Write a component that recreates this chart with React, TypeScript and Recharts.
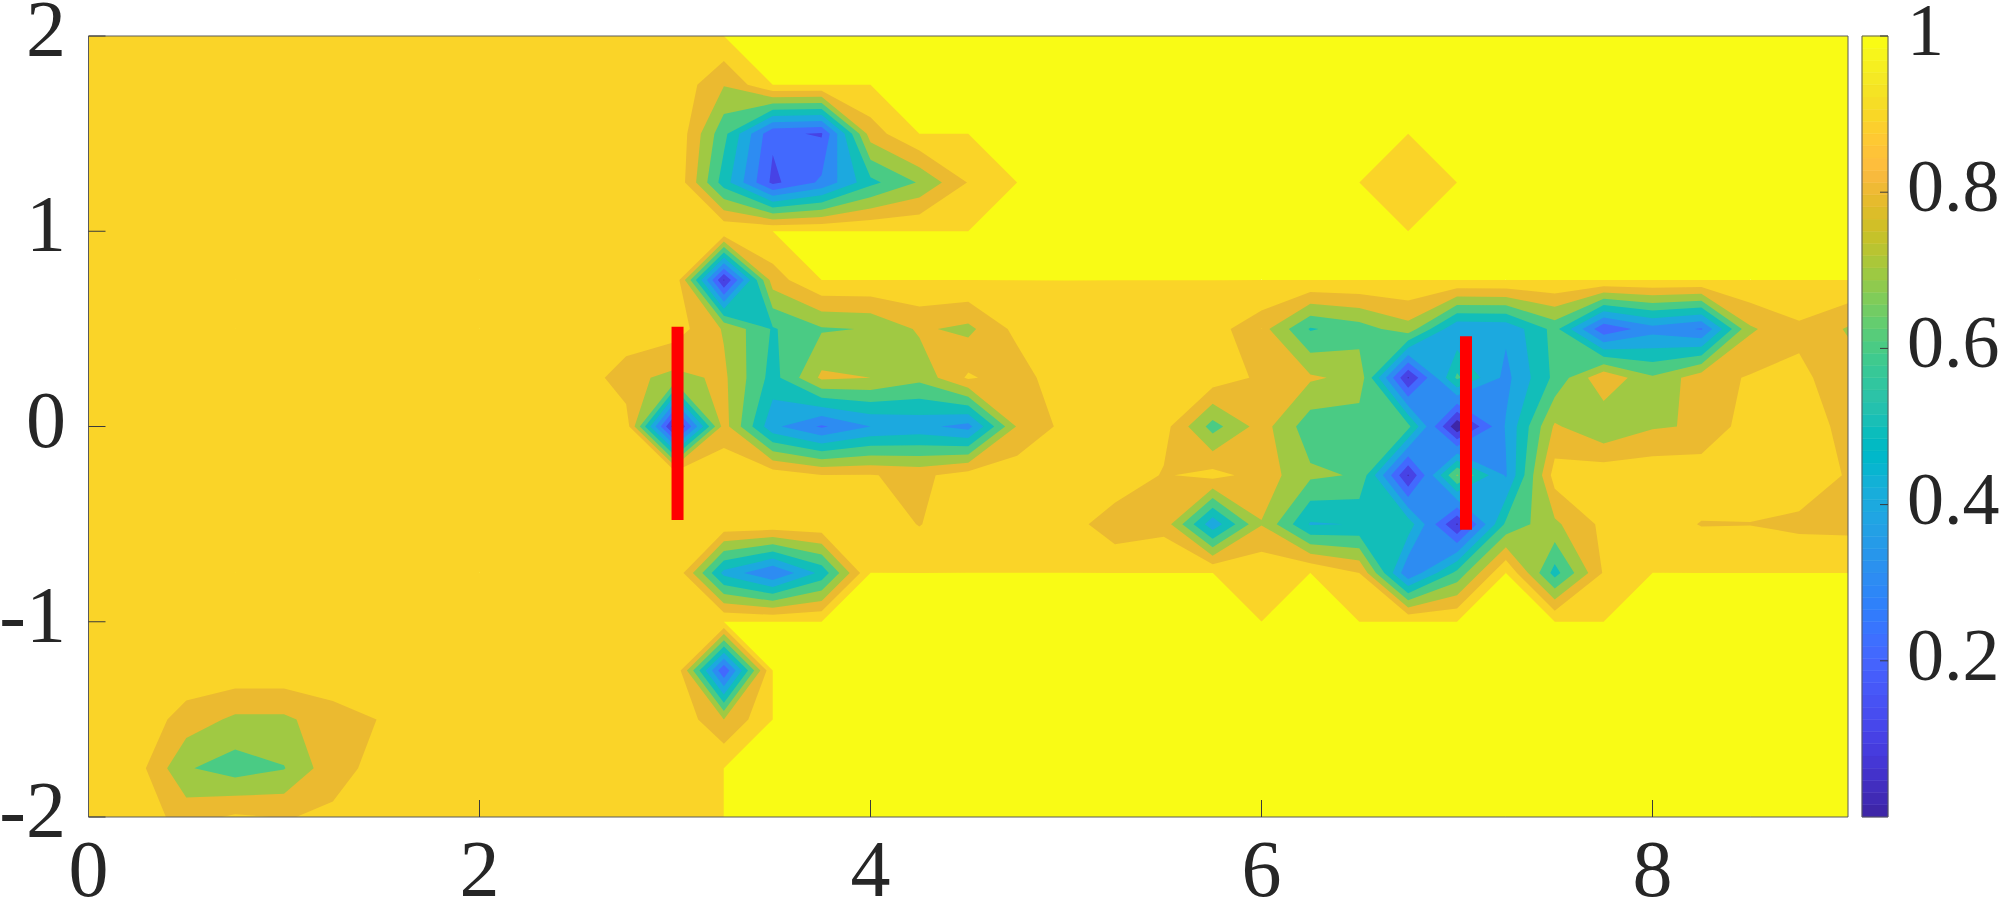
import React from "react";
import {
  Bar,
  BarChart,
  Scatter,
  ScatterChart,
  XAxis,
  YAxis
} from "recharts";

// field on a 0.25 grid: x = 0..9 (37 columns), rows listed from y = 2 down to y = -2
const yRows = [2, 1.75, 1.5, 1.25, 1, 0.75, 0.5, 0.25, 0, -0.25, -0.5, -0.75, -1, -1.25, -1.5, -1.75, -2];
const xCols = [
  0, 0.25, 0.5, 0.75, 1, 1.25, 1.5, 1.75, 2, 2.25, 2.5, 2.75, 3, 3.25, 3.5, 3.75, 4, 4.25, 4.5,
  4.75, 5, 5.25, 5.5, 5.75, 6, 6.25, 6.5, 6.75, 7, 7.25, 7.5, 7.75, 8, 8.25, 8.5, 8.75, 9
];

const rowP200 = [.97,.97,.97,.97,.97,.97,.97,.97,.97,.97,.97,.97,.97,1,1,1,1,1,1,1,1,1,1,1,1,1,1,1,1,1,1,1,1,1,1,1,1];
const rowP175 = [.97,.97,.97,.97,.97,.97,.97,.97,.97,.97,.97,.97,.98,.805,1,1,1,1,1,1,1,1,1,1,1,1,1,1,1,1,1,1,1,1,1,1,1];
const rowP150 = [.97,.97,.97,.97,.97,.97,.97,.97,.97,.97,.97,.97,.99,.63,.22,.19,.85,1,1,1,1,1,1,1,1,1,1,1,1,1,1,1,1,1,1,1,1];
const rowP125 = [.97,.97,.97,.97,.97,.97,.97,.97,.97,.97,.97,.97,.99,.55,.174,.32,.57,.71,.905,1,1,1,1,1,1,1,1,.95,1,1,1,1,1,1,1,1,1];
const rowP100 = [.97,.97,.97,.97,.97,.97,.97,.97,.97,.97,.97,.97,.97,.99,1,1,1,1,1,1,1,1,1,1,1,1,1,1,1,1,1,1,1,1,1,1,1];
const rowP075 = [.97,.97,.97,.97,.97,.97,.97,.97,.97,.97,.97,.97,.98,.09,.85,1,1,1,1,1,1,1,1,1,1,1,1,1,1,1,1,1,1,1,1,1,1];
const rowP050 = [.97,.97,.97,.97,.97,.97,.97,.97,.97,.97,.97,.99,.948,.79,.59,.69,.705,.815,.775,.93,.99,.98,.97,.935,.84,.59,.65,.76,.41,.42,.635,.22,.36,.29,.785,.88,.79];
const rowP025 = [.97,.97,.97,.97,.97,.97,.97,.97,.97,.97,.99,.83,.77,.82,.56,.82,.8,.73,.915,.84,.99,.98,.975,.96,.88,.815,.77,.09,.62,.37,.625,.883,.715,.86,.909,.92,.85];
const rowZero = [.97,.97,.97,.97,.97,.97,.97,.97,.97,.97,.97,.96,.03,.845,.425,.285,.4,.43,.362,.81,.93,.98,.94,.66,.845,.64,.635,.63,.02,.41,.815,.71,.79,.81,.959,.97,.86];
const rowM025 = [.97,.97,.97,.97,.97,.97,.97,.97,.97,.97,.97,.97,.98,.97,.965,.905,.905,.875,.95,.96,.98,.99,.89,.936,.856,.72,.69,.09,.71,.39,.945,.97,.97,.97,.97,.97,.89];
const rowM050 = [.97,.97,.97,.97,.97,.97,.97,.97,.97,.97,.97,.97,.98,.98,.98,.98,.97,.895,.98,.98,.96,.83,.865,.43,.795,.49,.505,.56,.09,.62,.78,.925,.95,.895,.897,.875,.87];
const rowM075 = [.97,.97,.97,.97,.97,.97,.97,.97,.97,.97,.97,.97,.99,.47,.3,.53,1,1,1,1,1,1,1,1,.98,1,.9,.315,.63,1,.56,.91,1,1,1,1,1];
const rowM100 = [.97,.97,.97,.97,.97,.97,.97,.97,.97,.97,.97,.97,.97,1,1,1,1,1,1,1,1,1,1,1,1,1,1,1,1,1,1,1,1,1,1,1,1];
const rowM125 = [.97,.97,.97,.97,.97,.97,.97,.97,.97,.97,.97,.97,.99,.21,1,1,1,1,1,1,1,1,1,1,1,1,1,1,1,1,1,1,1,1,1,1,1];
const rowM150 = [.97,.97,.856,.78,.78,.858,.905,.98,.97,.97,.97,.97,.99,.8,1,1,1,1,1,1,1,1,1,1,1,1,1,1,1,1,1,1,1,1,1,1,1];
const rowM175 = [.97,.94,.71,.65,.695,.868,.93,.98,.97,.97,.97,.97,.97,1,1,1,1,1,1,1,1,1,1,1,1,1,1,1,1,1,1,1,1,1,1,1,1];
const rowM200 = [.97,.956,.86,.915,.895,.915,.96,.97,.97,.97,.97,.97,.97,1,1,1,1,1,1,1,1,1,1,1,1,1,1,1,1,1,1,1,1,1,1,1,1];

const field = [
  rowP200, rowP175, rowP150, rowP125, rowP100, rowP075, rowP050, rowP025, rowZero,
  rowM025, rowM050, rowM075, rowM100, rowM125, rowM150, rowM175, rowM200
];

// contour levels, drawn from the top one down
const levels = [1.01, 0.9999, 0.9, 0.8, 0.7, 0.6, 0.5, 0.4, 0.3, 0.2, 0.1];
const bandColors = [
  "#f9fb15", "#fad428", "#ebba30", "#a0c943", "#4acb84", "#12beb9",
  "#1ca9df", "#2d8cf2", "#4269fe", "#4743e5", "#3e26a8"
];

const xTicks = [0, 2, 4, 6, 8];
const yTicks = [-2, -1, 0, 1, 2];
const barTicks = [0.2, 0.4, 0.6, 0.8, 1];
const barLabels = ["0.2", "0.4", "0.6", "0.8", "1"];

const markerA = [{ x: 3.013, y: 0.511 }, { x: 3.013, y: -0.479 }];
const markerB = [{ x: 7.046, y: 0.462 }, { x: 7.046, y: -0.529 }];
const barAxisAnchor = [{ x: 0.5, y: 0.5 }];

const parula = [
  "#3e26a8", "#402ab5", "#422ebf", "#4332cb", "#4537d5", "#463cde", "#4741e5", "#4747eb",
  "#474df0", "#4752f4", "#4758f8", "#465dfb", "#4563fd", "#4269fe", "#3e6fff", "#3875fe",
  "#327bfc", "#2f81fa", "#2d87f7", "#2d8cf3", "#2b91ef", "#2796eb", "#259be8", "#23a0e5",
  "#20a5e3", "#1ca9df", "#18addb", "#12b1d6", "#08b5d0", "#01b8ca", "#02bac3", "#0bbdbc",
  "#19bfb6", "#24c1ae", "#2cc3a7", "#31c69f", "#37c897", "#3fca8e", "#4acb84", "#57cc7a",
  "#64cd6f", "#72cc64", "#80cc59", "#8fca4e", "#9dc942", "#abc739", "#b9c431", "#c5c22a",
  "#d1bf27", "#dcbd29", "#e6bb2d", "#efba35", "#f8ba3d", "#febe3c", "#fec338", "#fec933",
  "#fccf2d", "#f9d726", "#f6dd26", "#f5e324", "#f5e924", "#f6ef20", "#f7f51b", "#f9fb15"
];

const barRow = [Object.fromEntries(parula.map((_, i) => [`s${i}`, 1 / parula.length]))];

type Pt = { x: number; y: number; v: number };

const crossing = (a: Pt, b: Pt, level: number) => {
  const f = (level - a.v) / (b.v - a.v);
  return { x: a.x + f * (b.x - a.x), y: a.y + f * (b.y - a.y), v: level };
};

// the part(s) of one grid cell below the level
function cellPolygons(col: number, row: number, level: number) {
  const corners: Pt[] = [
    { x: xCols[col], y: yRows[row], v: field[row][col] },
    { x: xCols[col + 1], y: yRows[row], v: field[row][col + 1] },
    { x: xCols[col + 1], y: yRows[row + 1], v: field[row + 1][col + 1] },
    { x: xCols[col], y: yRows[row + 1], v: field[row + 1][col] }
  ];
  const low = corners.map((c) => c.v < level);
  const mean = corners.reduce((s, c) => s + c.v, 0) / 4;
  // saddle: the centre value says whether the two low corners join up
  if (low[0] === low[2] && low[1] === low[3] && low[0] !== low[1] && mean >= level) {
    const polys: Pt[][] = [];
    corners.forEach((c, i) => {
      if (!low[i]) return;
      const prev = corners[(i + 3) % 4];
      const next = corners[(i + 1) % 4];
      polys.push([crossing(prev, c, level), c, crossing(c, next, level)]);
    });
    return polys;
  }
  const out: Pt[] = [];
  corners.forEach((a, i) => {
    const b = corners[(i + 1) % 4];
    if (low[i]) out.push(a);
    if (low[i] !== low[(i + 1) % 4]) out.push(crossing(a, b, level));
  });
  return out.length > 2 ? [out] : [];
}

const bands = levels.map((level) => {
  const vertices: { x: number; y: number }[] = [];
  const sizes: number[] = [];
  for (let row = 0; row < yRows.length - 1; row++) {
    for (let col = 0; col < xCols.length - 1; col++) {
      cellPolygons(col, row, level).forEach((poly) => {
        poly.forEach((p) => vertices.push({ x: p.x, y: p.y }));
        sizes.push(poly.length);
      });
    }
  }
  return { vertices, sizes };
});

// Scatter hands its scaled points to this; one path per band so cells leave no seams
function BandPath({ points, sizes, color }: any) {
  let d = "";
  let at = 0;
  sizes.forEach((n: number) => {
    const pts = points.slice(at, at + n);
    d += "M" + pts.map((p: any) => `${p.x},${p.y}`).join("L") + "Z";
    at += n;
  });
  return <path d={d} fill={color} stroke="none" />;
}

const NoDot = () => null;

const labelFont = "'Liberation Serif', serif";

function XLabel({ x, payload }: any) {
  return (
    <text x={x} y={896} textAnchor="middle" fontFamily={labelFont} fontSize={80} fill="#262626">
      {payload.value}
    </text>
  );
}

function YLabel({ y, payload }: any) {
  return (
    <text x={66} y={y + 20} textAnchor="end" fontFamily={labelFont} fontSize={80} fill="#262626">
      {payload.value}
    </text>
  );
}

function BarLabel({ y, payload }: any) {
  const i = barTicks.indexOf(payload.value);
  return (
    <text x={46} y={y + 19} textAnchor="start" fontFamily={labelFont} fontSize={74} fill="#262626">
      {barLabels[i]}
    </text>
  );
}

const boxLine = { stroke: "#5a5a5a", strokeWidth: 1 };
const tickLine = { stroke: "#3a3a3a", strokeWidth: 1 };

export default function App() {
  return (
    <div style={{ position: "fixed", left: 0, top: 0, width: 2000, height: 899, background: "#fff" }}>
      <div style={{ position: "absolute", left: 0, top: 0 }}>
        <ScatterChart width={2000} height={899} margin={{ top: 36, right: 152, bottom: 82, left: 88.5 }}>
          <XAxis hide type="number" dataKey="x" domain={[0, 9]} />
          <YAxis hide type="number" dataKey="y" domain={[-2, 2]} />
          {bands.map((band, i) => (
            <Scatter
              key={i}
              data={band.vertices}
              shape={NoDot}
              line={<BandPath sizes={band.sizes} color={bandColors[i]} />}
              isAnimationActive={false}
            />
          ))}
          <Scatter data={markerA} shape={NoDot} line={{ stroke: "#ff0000", strokeWidth: 12 }} isAnimationActive={false} />
          <Scatter data={markerB} shape={NoDot} line={{ stroke: "#ff0000", strokeWidth: 12 }} isAnimationActive={false} />
        </ScatterChart>
      </div>

      {/* axes sit in a second chart on top, otherwise the filled bands cover the inward ticks */}
      <div style={{ position: "absolute", left: 0, top: 0 }}>
        <ScatterChart width={2000} height={899} margin={{ top: 35, right: 151, bottom: 0, left: 0 }}>
          <XAxis
            type="number"
            dataKey="x"
            domain={[0, 9]}
            ticks={xTicks}
            height={82}
            interval={0}
            axisLine={boxLine}
            tickLine={tickLine}
            tickSize={-17}
            tick={<XLabel />}
          />
          <XAxis
            xAxisId="top"
            orientation="top"
            type="number"
            dataKey="x"
            domain={[0, 9]}
            ticks={xTicks}
            height={1}
            interval={0}
            axisLine={boxLine}
            tickLine={tickLine}
            tickSize={-17}
            tick={false}
          />
          <YAxis
            type="number"
            dataKey="y"
            domain={[-2, 2]}
            ticks={yTicks}
            width={88.5}
            interval={0}
            axisLine={boxLine}
            tickLine={tickLine}
            tickSize={-17}
            tick={<YLabel />}
          />
          <YAxis
            yAxisId="right"
            orientation="right"
            type="number"
            dataKey="y"
            domain={[-2, 2]}
            ticks={yTicks}
            width={1}
            interval={0}
            axisLine={boxLine}
            tickLine={tickLine}
            tickSize={-17}
            tick={false}
          />
          <Scatter data={markerA} shape={NoDot} isAnimationActive={false} />
          <Scatter data={markerA} xAxisId="top" yAxisId="right" shape={NoDot} isAnimationActive={false} />
        </ScatterChart>
      </div>

      <div style={{ position: "absolute", left: 1861, top: 0 }}>
        <BarChart
          width={139}
          height={899}
          data={barRow}
          barCategoryGap={0}
          margin={{ top: 36, right: 112, bottom: 82, left: 1 }}
        >
          <XAxis hide />
          <YAxis hide type="number" domain={[0, 1]} />
          {parula.map((color, i) => (
            <Bar key={i} dataKey={`s${i}`} stackId="bar" fill={color} stroke={color} strokeWidth={0.5} isAnimationActive={false} />
          ))}
        </BarChart>
      </div>

      <div style={{ position: "absolute", left: 1861, top: 0 }}>
        <ScatterChart width={139} height={899} margin={{ top: 35, right: 0, bottom: 81, left: 0 }}>
          <XAxis type="number" dataKey="x" domain={[0, 1]} ticks={[]} height={1} axisLine={boxLine} tick={false} tickLine={false} />
          <XAxis xAxisId="top" orientation="top" type="number" dataKey="x" domain={[0, 1]} ticks={[]} height={1} axisLine={boxLine} tick={false} tickLine={false} />
          <YAxis
            orientation="right"
            type="number"
            dataKey="y"
            domain={[0, 1]}
            ticks={barTicks}
            width={112}
            interval={0}
            axisLine={boxLine}
            tickLine={tickLine}
            tickSize={-8}
            tick={<BarLabel />}
          />
          <YAxis yAxisId="left" type="number" dataKey="y" domain={[0, 1]} ticks={[]} width={1} axisLine={boxLine} tick={false} tickLine={false} />
          <Scatter data={barAxisAnchor} shape={NoDot} isAnimationActive={false} />
          <Scatter data={barAxisAnchor} xAxisId="top" yAxisId="left" shape={NoDot} isAnimationActive={false} />
        </ScatterChart>
      </div>
    </div>
  );
}
